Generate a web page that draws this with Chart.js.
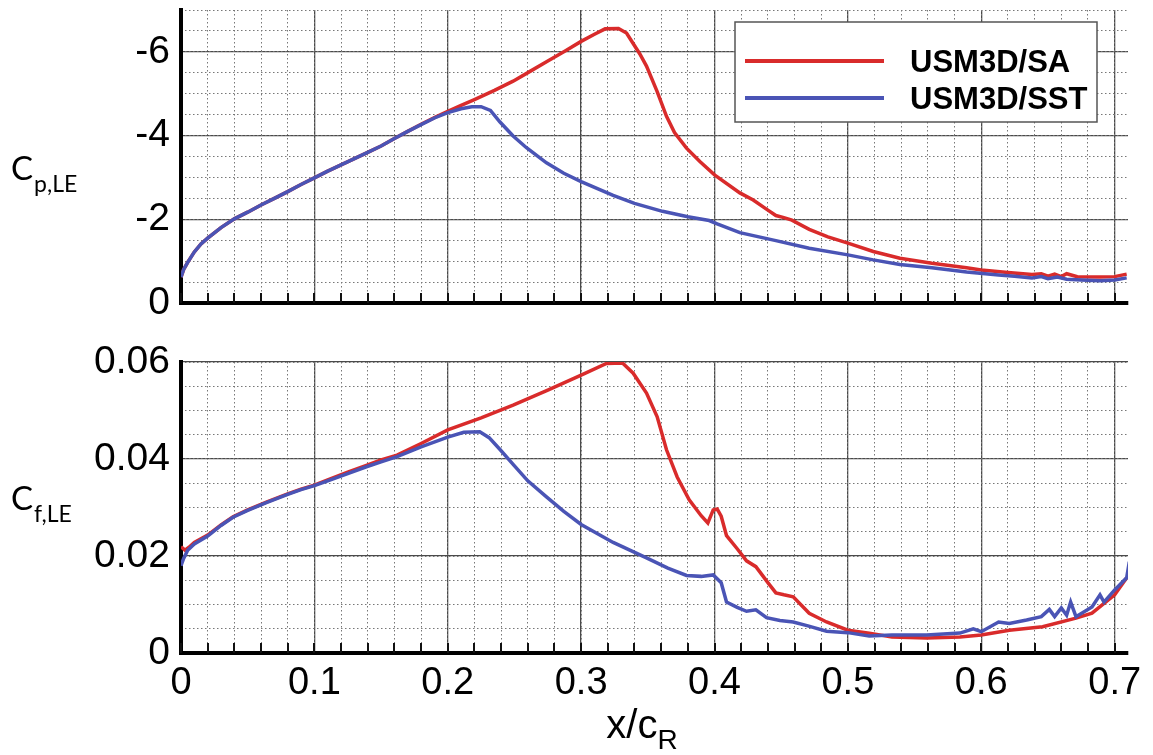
<!DOCTYPE html>
<html>
<head>
<meta charset="utf-8">
<title>Leading-edge Cp and Cf, USM3D SA vs SST</title>
<script src="https://cdn.jsdelivr.net/npm/chart.js@4.4.1/dist/chart.umd.min.js"></script>
<style>
  html, body { margin: 0; padding: 0; background: #fff; }
  #wrap { position: relative; width: 1153px; height: 755px; }
  #wrap canvas { position: absolute; left: 0; }
  #cpChart { top: 0; }
  #cfChart { top: 330px; }
</style>
</head>
<body>
<div id="wrap">
  <canvas id="cpChart" width="1153" height="330"></canvas>
  <canvas id="cfChart" width="1153" height="425"></canvas>
</div>
<script>
// ==================== DATA ====================

const seriesLabels = ['USM3D/SA', 'USM3D/SST'];
const seriesColors = ['#d92b2b', '#4a54b5'];

const xTicks = [0, 0.1, 0.2, 0.3, 0.4, 0.5, 0.6, 0.7];
const cpTicks = [0, -2, -4, -6];
const cfTicks = [0, 0.02, 0.04, 0.06];

// Cp,LE  [x/cR, Cp]
const cpSst = [
    [0, -0.62], [0.002, -0.8], [0.005, -0.97], [0.01, -1.22], [0.015, -1.41], [0.02, -1.55],
    [0.03, -1.8], [0.04, -2.01], [0.05, -2.17], [0.06, -2.34], [0.07, -2.5], [0.08, -2.66],
    [0.09, -2.83], [0.1, -2.99], [0.11, -3.15], [0.12, -3.3], [0.13, -3.45], [0.14, -3.6],
    [0.15, -3.75], [0.16, -3.93], [0.17, -4.1], [0.18, -4.26], [0.19, -4.42], [0.2, -4.55],
    [0.21, -4.64], [0.218, -4.69], [0.225, -4.69], [0.232, -4.6], [0.239, -4.33], [0.249, -3.99],
    [0.259, -3.71], [0.274, -3.35], [0.287, -3.1], [0.3, -2.9], [0.324, -2.57], [0.34, -2.38],
    [0.361, -2.19], [0.38, -2.06], [0.396, -1.97], [0.402, -1.89], [0.419, -1.68], [0.446, -1.49],
    [0.471, -1.31], [0.5, -1.15], [0.519, -1.03], [0.539, -0.92], [0.563, -0.84], [0.589, -0.74],
    [0.613, -0.67], [0.625, -0.64], [0.638, -0.6], [0.645, -0.63], [0.65, -0.58], [0.657, -0.62],
    [0.664, -0.57], [0.675, -0.55], [0.689, -0.53], [0.7, -0.55], [0.709, -0.6]
];
const cpSa = [
    [0, -0.62], [0.002, -0.8], [0.005, -0.97], [0.01, -1.22], [0.015, -1.41], [0.02, -1.55],
    [0.03, -1.8], [0.04, -2.01], [0.05, -2.17], [0.06, -2.34], [0.07, -2.5], [0.08, -2.66],
    [0.09, -2.83], [0.1, -2.99], [0.11, -3.15], [0.12, -3.3], [0.13, -3.45], [0.14, -3.6],
    [0.15, -3.75], [0.16, -3.93], [0.17, -4.1], [0.18, -4.27], [0.19, -4.43], [0.2, -4.58],
    [0.21, -4.72], [0.22, -4.86], [0.235, -5.08], [0.249, -5.3], [0.262, -5.54], [0.275, -5.78],
    [0.288, -6.02], [0.3, -6.25], [0.31, -6.42], [0.318, -6.55], [0.328, -6.56], [0.334, -6.45],
    [0.339, -6.2], [0.344, -5.95], [0.349, -5.66], [0.357, -5.05], [0.364, -4.46], [0.37, -4.07],
    [0.379, -3.7], [0.389, -3.38], [0.4, -3.06], [0.419, -2.63], [0.429, -2.46], [0.44, -2.22],
    [0.446, -2.09], [0.452, -2.04], [0.458, -1.98], [0.471, -1.76], [0.485, -1.58], [0.5, -1.43],
    [0.519, -1.23], [0.539, -1.07], [0.563, -0.95], [0.589, -0.84], [0.6, -0.79], [0.62, -0.73],
    [0.638, -0.68], [0.645, -0.7], [0.65, -0.64], [0.655, -0.69], [0.66, -0.63], [0.664, -0.7],
    [0.672, -0.63], [0.689, -0.62], [0.7, -0.63], [0.709, -0.69]
];

// Cf,LE  [x/cR, Cf]
const cfSst = [
    [0, 0.018], [0.002, 0.0195], [0.005, 0.0212], [0.01, 0.0225], [0.02, 0.0241], [0.03, 0.0263],
    [0.039, 0.028], [0.05, 0.0294], [0.064, 0.031], [0.08, 0.0327], [0.09, 0.0337], [0.1, 0.0345],
    [0.11, 0.0355], [0.125, 0.037], [0.139, 0.0384], [0.15, 0.0394], [0.162, 0.0405], [0.18, 0.0425],
    [0.2, 0.0445], [0.212, 0.0455], [0.224, 0.0456], [0.231, 0.0444], [0.239, 0.042], [0.249, 0.0389],
    [0.26, 0.0355], [0.274, 0.0322], [0.287, 0.0292], [0.3, 0.0265], [0.324, 0.0228], [0.349, 0.0196],
    [0.365, 0.0175], [0.379, 0.016], [0.39, 0.0158], [0.399, 0.0161], [0.405, 0.0145], [0.409, 0.0105],
    [0.417, 0.0094], [0.424, 0.0086], [0.431, 0.0089], [0.439, 0.0073], [0.449, 0.0067], [0.459, 0.0064],
    [0.47, 0.0056], [0.484, 0.0045], [0.5, 0.0042], [0.516, 0.0035], [0.533, 0.0037], [0.559, 0.0037],
    [0.584, 0.0041], [0.594, 0.005], [0.6, 0.0044], [0.613, 0.0064], [0.621, 0.0061], [0.634, 0.0068],
    [0.645, 0.0075], [0.651, 0.009], [0.655, 0.0075], [0.66, 0.0093], [0.664, 0.0078], [0.667, 0.0105],
    [0.671, 0.0075], [0.683, 0.0095], [0.689, 0.012], [0.692, 0.0105], [0.7, 0.013], [0.709, 0.0155],
    [0.711, 0.0188]
];
const cfSa = [
    [0, 0.0219], [0.003, 0.0212], [0.006, 0.0218], [0.01, 0.0228], [0.02, 0.0243], [0.03, 0.0264],
    [0.039, 0.0281], [0.05, 0.0295], [0.064, 0.0311], [0.08, 0.0328], [0.09, 0.0338], [0.1, 0.0346],
    [0.11, 0.0357], [0.125, 0.0373], [0.139, 0.0387], [0.15, 0.0398], [0.162, 0.0408], [0.18, 0.0432],
    [0.2, 0.046], [0.225, 0.0485], [0.249, 0.0511], [0.275, 0.0542], [0.3, 0.0573], [0.319, 0.0597],
    [0.331, 0.0598], [0.339, 0.0577], [0.349, 0.0536], [0.357, 0.0487], [0.364, 0.0419], [0.372, 0.0363],
    [0.381, 0.0316], [0.39, 0.0283], [0.395, 0.0268], [0.399, 0.0295], [0.402, 0.0297], [0.405, 0.0282],
    [0.409, 0.0242], [0.417, 0.0215], [0.424, 0.019], [0.431, 0.0178], [0.44, 0.0145], [0.446, 0.0124],
    [0.452, 0.012], [0.459, 0.0116], [0.471, 0.0082], [0.484, 0.0064], [0.5, 0.0047], [0.516, 0.0041],
    [0.533, 0.0033], [0.559, 0.0031], [0.584, 0.0033], [0.6, 0.0037], [0.621, 0.0047], [0.646, 0.0054],
    [0.671, 0.0072], [0.683, 0.0082], [0.7, 0.012], [0.709, 0.0155]
];

// ==================== PLUGINS ====================

const tickFont = { family: '"Liberation Sans", Arial, sans-serif', size: 39 };

// small tick marks pointing up from the bottom axis
const innerTicks = {
    id: 'innerTicks',
    beforeDatasetsDraw(chart) {
        const xs = chart.scales.xMinor;
        const { ctx, chartArea } = chart;
        ctx.save();
        ctx.strokeStyle = '#111';
        ctx.lineWidth = 2;
        xs.ticks.forEach(t => {
            const px = Math.round(xs.getPixelForValue(t.value));
            ctx.beginPath();
            ctx.moveTo(px, chartArea.bottom);
            ctx.lineTo(px, chartArea.bottom - 10);
            ctx.stroke();
        });
        ctx.restore();
    }
};

// axis titles with a subscript part
const subTitles = {
    id: 'subTitles',
    afterDraw(chart, args, opts) {
        const ctx = chart.ctx;
        (opts.items || []).forEach(it => {
            ctx.save();
            ctx.fillStyle = '#000';
            ctx.textBaseline = 'alphabetic';
            ctx.font = it.font;
            const w1 = ctx.measureText(it.main).width;
            ctx.font = it.subFont;
            const w2 = ctx.measureText(it.sub).width;
            const x = it.center ? it.x - (w1 + w2) / 2 : it.x;
            ctx.font = it.font;
            ctx.fillText(it.main, x, it.y);
            ctx.font = it.subFont;
            ctx.fillText(it.sub, x + w1 + (it.gap || 0), it.y + it.drop);
            ctx.restore();
        });
    }
};

// boxed legend inside the top plot
const boxLegend = {
    id: 'boxLegend',
    afterDraw(chart, args, opts) {
        if (!opts.show) return;
        const { ctx } = chart;
        const { left, top, width, height } = opts;
        ctx.save();
        ctx.fillStyle = '#fff';
        ctx.fillRect(left, top, width, height);
        ctx.strokeStyle = '#555';
        ctx.lineWidth = 1.5;
        ctx.strokeRect(left, top, width, height);
        ctx.font = 'bold 31px "Liberation Sans", Arial, sans-serif';
        ctx.textBaseline = 'alphabetic';
        chart.data.datasets.forEach((ds, i) => {
            const y = top + 39 + i * 37;
            ctx.strokeStyle = ds.borderColor;
            ctx.lineWidth = 4;
            ctx.beginPath();
            ctx.moveTo(left + 10, y);
            ctx.lineTo(left + 149, y);
            ctx.stroke();
            ctx.fillStyle = '#000';
            ctx.fillText(ds.label, left + 175, y + 11);
        });
        ctx.restore();
    }
};

// ==================== CHARTS ====================

function toPoints(pairs) {
    return pairs.map(p => ({ x: p[0], y: p[1] }));
}

function fixTicks(values) {
    return scale => { scale.ticks = values.map(v => ({ value: v })); };
}

function keepInside(scale) {
    const lo = Math.min(scale.min, scale.max), hi = Math.max(scale.min, scale.max);
    scale.ticks = scale.ticks.filter(t => t.value >= lo - 1e-9 && t.value <= hi + 1e-9);
}

function makeChart(canvasId, cfg) {
    const fmt = v => String(+v.toFixed(3));
    return new Chart(document.getElementById(canvasId), {
        type: 'line',
        data: {
            datasets: cfg.series.map((s, i) => ({
                label: seriesLabels[i],
                data: toPoints(s),
                borderColor: seriesColors[i],
                backgroundColor: seriesColors[i],
                borderWidth: 3.5,
                pointRadius: 0,
                tension: 0,
                fill: false,
                order: cfg.series.length - 1 - i   // SST drawn over SA
            }))
        },
        options: {
            responsive: false,
            animation: false,
            devicePixelRatio: 1,
            layout: { padding: cfg.padding },
            plugins: {
                legend: { display: false },
                tooltip: { enabled: false },
                subTitles: { items: cfg.titles },
                boxLegend: cfg.legend
            },
            scales: {
                x: {
                    type: 'linear', min: 0, max: 0.71,
                    afterBuildTicks: fixTicks(xTicks),
                    afterFit: s => { s.height = cfg.xHeight; s.paddingLeft = 0; s.paddingRight = 0; },
                    grid: { color: '#4a4a4a', lineWidth: 1.3, drawTicks: false },
                    border: { color: '#000', width: 4 },
                    ticks: {
                        display: cfg.showXTicks, font: { ...tickFont, size: 38 }, color: '#000',
                        padding: 8, autoSkip: false, maxRotation: 0, callback: fmt
                    }
                },
                xMinor: {
                    type: 'linear', position: 'bottom', min: 0, max: 0.71, z: -1,
                    ticks: { display: false, stepSize: 0.02, includeBounds: false },
                    afterBuildTicks: keepInside,
                    afterFit: s => { s.height = 0; s.paddingLeft = 0; s.paddingRight = 0; },
                    grid: { color: '#777', lineWidth: 1, drawTicks: false },
                    border: { display: false, dash: [1.5, 2.5] }
                },
                y: {
                    type: 'linear', min: cfg.yMin, max: cfg.yMax, reverse: cfg.reverse,
                    afterBuildTicks: fixTicks(cfg.yTicks),
                    afterFit: s => { s.width = 181; s.paddingTop = 0; s.paddingBottom = 0; },
                    grid: { color: '#4a4a4a', lineWidth: 1.3, drawTicks: false },
                    border: { color: '#000', width: 4 },
                    ticks: { font: tickFont, color: '#000', padding: 11, autoSkip: false, callback: fmt }
                },
                yMinor: {
                    type: 'linear', position: 'left', min: cfg.yMin, max: cfg.yMax, reverse: cfg.reverse, z: -1,
                    ticks: { display: false, stepSize: cfg.yMinorStep },
                    afterBuildTicks: keepInside,
                    afterFit: s => { s.width = 0; s.paddingTop = 0; s.paddingBottom = 0; },
                    grid: { color: '#777', lineWidth: 1, drawTicks: false },
                    border: { display: false, dash: [1.5, 2.5] }
                }
            }
        },
        plugins: [innerTicks, subTitles, boxLegend]
    });
}

const titleFont = '33px Lato, "Open Sans", sans-serif';
const titleSubFont = '23px Lato, "Open Sans", sans-serif';

makeChart('cpChart', {
    series: [cpSa, cpSst],
    yMin: -7, yMax: 0, reverse: true, yTicks: cpTicks, yMinorStep: 0.5,
    padding: { top: 10, right: 25, left: 0, bottom: 0 },
    xHeight: 27, showXTicks: false,
    titles: [{ main: 'C', sub: 'p,LE', x: 11, y: 180, drop: 12, gap: 1, font: titleFont, subFont: titleSubFont }],
    legend: { show: true, left: 735, top: 22, width: 362, height: 100 }
});

makeChart('cfChart', {
    series: [cfSa, cfSst],
    yMin: 0, yMax: 0.06, reverse: false, yTicks: cfTicks, yMinorStep: 0.005,
    padding: { top: 32, right: 25, left: 0, bottom: 0 },
    xHeight: 102, showXTicks: true,
    titles: [
        { main: 'C', sub: 'f,LE', x: 11, y: 180, drop: 12, gap: 1, font: titleFont, subFont: titleSubFont },
        { main: 'x/c', sub: 'R', x: 642, y: 408, drop: 11, center: true,
          font: '40px "Liberation Sans", Arial, sans-serif', subFont: '28px "Liberation Sans", Arial, sans-serif' }
    ],
    legend: { show: false }
});
</script>
</body>
</html>
